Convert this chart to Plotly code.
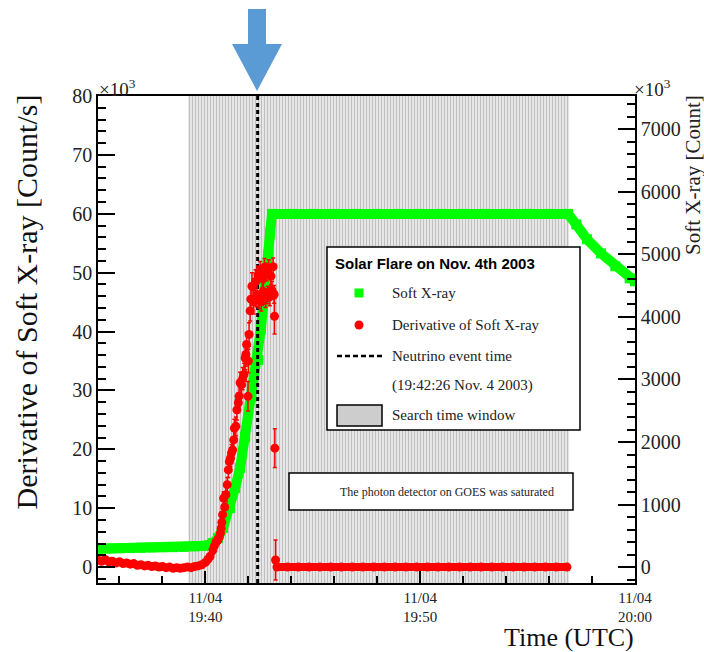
import plotly.graph_objects as go

DAY = "2003-11-04 "

# ---------------- data ----------------
# GOES soft X-ray flux, in units of 10^3 counts (right axis)
sxr_time = ["19:35:00", "19:35:30", "19:36:00", "19:36:30", "19:37:00", "19:37:30",
            "19:38:00", "19:38:30", "19:39:00", "19:39:30", "19:40:00", "19:40:21",
            "19:40:35", "19:40:49", "19:41:09", "19:41:23", "19:41:37", "19:41:51",
            "19:42:09", "19:42:28", "19:42:35", "19:42:42", "19:42:49", "19:42:56",
            "19:43:01", "19:43:06", "19:44:00", "19:45:00", "19:46:00", "19:47:00",
            "19:48:00", "19:49:00", "19:50:00", "19:51:00", "19:52:00", "19:53:00",
            "19:54:00", "19:55:00", "19:56:00", "19:56:53", "19:57:16", "19:57:46",
            "19:58:25", "19:59:05", "19:59:45", "20:00:00"]
sxr_value = [294, 298, 301, 305, 309, 313,
             316, 319, 323, 331, 342, 385,
             465, 625, 945, 1265, 1585, 2080,
             2720, 3311, 3800, 4250, 4650, 5000,
             5350, 5647, 5647, 5647, 5647, 5647,
             5647, 5647, 5647, 5647, 5647, 5647,
             5647, 5647, 5647, 5647, 5478, 5242,
             5016, 4810, 4617, 4570]

# Derivative of soft X-ray, in units of 10^3 counts/s (left axis)
deriv_time = ["19:35:00", "19:35:10", "19:35:20", "19:35:30", "19:35:40", "19:35:50",
              "19:36:00", "19:36:10", "19:36:20", "19:36:30", "19:36:40", "19:36:50",
              "19:37:00", "19:37:10", "19:37:20", "19:37:30", "19:37:40", "19:37:50",
              "19:38:00", "19:38:10", "19:38:20", "19:38:30", "19:38:40", "19:38:50",
              "19:39:00", "19:39:10", "19:39:20", "19:39:30", "19:39:40", "19:39:50",
              "19:40:00", "19:40:07", "19:40:13", "19:40:21", "19:40:25", "19:40:30",
              "19:40:35", "19:40:39", "19:40:42", "19:40:44", "19:40:46", "19:40:48",
              "19:40:51", "19:40:54", "19:40:57", "19:41:01", "19:41:04", "19:41:07",
              "19:41:10", "19:41:13", "19:41:16", "19:41:19", "19:41:21", "19:41:25",
              "19:41:28", "19:41:32", "19:41:34", "19:41:37", "19:41:41", "19:41:44",
              "19:41:48", "19:41:51", "19:41:53", "19:41:55", "19:41:59", "19:42:00",
              "19:42:02", "19:42:05", "19:42:07", "19:42:10", "19:42:15", "19:42:20",
              "19:42:24", "19:42:27", "19:42:30", "19:42:33", "19:42:36", "19:42:39",
              "19:42:42", "19:42:45", "19:42:48", "19:42:51", "19:42:54", "19:42:57",
              "19:43:00", "19:43:03", "19:43:06", "19:43:09", "19:43:12", "19:43:13",
              "19:43:14", "19:43:16"]
deriv_value = [1.2, 1.0, 1.3, 0.9, 1.0, 0.7,
               0.9, 0.6, 0.7, 0.5, 0.6, 0.3,
               0.4, 0.2, 0.3, 0.1, 0.2, 0.0,
               0.1, -0.1, 0.0, -0.2, -0.1, -0.2,
               -0.1, 0.0, -0.1, 0.1, 0.2, 0.4,
               0.8, 1.3, 1.8, 2.9, 3.6, 4.3,
               4.6, 5.1, 5.8, 6.6, 7.6, 8.9,
               11.7, 10.2, 12.3, 14.0, 16.5, 17.9,
               18.5, 19.4, 19.9, 21.6, 23.6, 23.9,
               26.7, 27.9, 29.0, 31.3, 31.0, 32.0,
               32.7, 35.5, 36.1, 37.8, 29.0, 35.0,
               39.5, 43.5, 45.5, 47.7, 45.0, 48.5,
               46.2, 49.6, 45.4, 50.4, 45.0, 49.0,
               46.8, 50.9, 45.6, 50.1, 46.2, 50.7,
               45.9, 49.4, 47.0, 51.0, 46.3, 42.6,
               20.2, 1.2]
deriv_error = [0.4, 0.4, 0.4, 0.4, 0.4, 0.4,
               0.4, 0.4, 0.4, 0.4, 0.4, 0.4,
               0.4, 0.4, 0.4, 0.4, 0.4, 0.4,
               0.4, 0.4, 0.4, 0.4, 0.4, 0.4,
               0.4, 0.4, 0.4, 0.4, 0.4, 0.4,
               0.5, 0.5, 0.6, 0.7, 0.7, 0.8,
               0.8, 0.8, 0.9, 0.9, 1.0, 1.0,
               1.1, 1.1, 1.2, 1.2, 1.3, 1.3,
               1.4, 1.4, 1.4, 1.5, 1.5, 1.6,
               1.7, 1.7, 1.8, 1.8, 1.8, 1.9,
               1.9, 2.0, 2.0, 2.0, 2.5, 2.0,
               2.0, 1.7, 2.0, 2.3, 2.0, 2.0,
               2.0, 1.5, 1.5, 1.5, 1.5, 1.5,
               1.5, 1.5, 1.5, 1.5, 1.5, 1.5,
               1.5, 1.5, 1.5, 1.5, 1.5, 3.0,
               3.3, 3.4]

# Derivative while the GOES detector was saturated
sat_time = ["19:43:20", "19:43:50", "19:44:20", "19:44:50", "19:45:20", "19:45:50",
            "19:46:20", "19:46:50", "19:47:20", "19:47:50", "19:48:20", "19:48:50",
            "19:49:20", "19:49:50", "19:50:20", "19:50:50", "19:51:20", "19:51:50",
            "19:52:20", "19:52:50", "19:53:20", "19:53:50", "19:54:20", "19:54:50",
            "19:55:20", "19:55:50", "19:56:20", "19:56:50"]
sat_value = [0, 0, 0, 0, 0, 0, 0, 0, 0, 0, 0, 0, 0, 0,
             0, 0, 0, 0, 0, 0, 0, 0, 0, 0, 0, 0, 0, 0]

neutrino_time = "19:42:26"
window_start, window_end = "19:39:12", "19:56:56"

x_ticks = ["19:40:00", "19:50:00", "20:00:00"]
x_ticktext = ["11/04<br>19:40", "11/04<br>19:50", "11/04<br>20:00"]
left_ticks = [0, 10, 20, 30, 40, 50, 60, 70, 80]
right_ticks = [0, 1000, 2000, 3000, 4000, 5000, 6000, 7000]

# ---------------- layout constants ----------------
X_RANGE = [DAY + "19:35:00", DAY + "20:00:00"]
LEFT_RANGE = [-2.7, 80.0]
RIGHT_RANGE = [-254, 7532]
W, H = 704, 652
L, R, T, B = 98, 69, 96, 69
PW, PH = W - L - R, H - T - B
SERIF = "Liberation Serif"
SANS = "Liberation Sans"


def px(x):
    return (x - L) / PW


def py(y):
    return (H - B - y) / PH


def full(ts):
    return [DAY + s for s in ts]


fig = go.Figure()

# search time window (right / primary axis drawn first -> bottom layer)
fig.add_trace(go.Scatter(
    x=full([window_start, window_start, window_end, window_end, window_start]),
    y=[RIGHT_RANGE[0], RIGHT_RANGE[1], RIGHT_RANGE[1], RIGHT_RANGE[0], RIGHT_RANGE[0]],
    mode="lines", fill="toself", line=dict(width=0),
    fillcolor="#cfcfcf",
    fillpattern=dict(shape="|", fgcolor="#9a9a9a", bgcolor="#e6e6e6", size=3, solidity=0.34),
    yaxis="y", hoverinfo="skip", showlegend=False))

# soft X-ray
fig.add_trace(go.Scatter(
    x=full(sxr_time), y=sxr_value, mode="lines+markers", yaxis="y",
    line=dict(color="#00ff00", width=10),
    marker=dict(symbol="square", size=10, color="#00ff00"),
    showlegend=False))

# neutrino event time
fig.add_trace(go.Scatter(
    x=full([neutrino_time, neutrino_time]), y=RIGHT_RANGE, mode="lines", yaxis="y",
    line=dict(color="black", width=3, dash="4px,3px"), showlegend=False))

# derivative (left axis, overlay -> drawn on top)
fig.add_trace(go.Scatter(
    x=full(deriv_time), y=deriv_value, mode="markers", yaxis="y2",
    marker=dict(symbol="circle", size=9, color="#ff0000"),
    error_y=dict(type="data", array=deriv_error, color="#ff0000", thickness=1.5, width=2),
    showlegend=False))
fig.add_trace(go.Scatter(
    x=full(sat_time), y=sat_value, mode="lines+markers", yaxis="y2",
    line=dict(color="#ff0000", width=8),
    marker=dict(symbol="circle", size=9, color="#ff0000"),
    showlegend=False))

axis_common = dict(showline=True, linecolor="black", linewidth=1.5, showgrid=False,
                   zeroline=False, ticks="inside", tickcolor="black", tickwidth=1.5)

fig.update_layout(
    width=W, height=H, margin=dict(l=L, r=R, t=T, b=B),
    paper_bgcolor="white", plot_bgcolor="white", showlegend=False,
    font=dict(family=SERIF, color="black"),
    xaxis=dict(type="date", range=X_RANGE, tickmode="array",
               tickvals=full(x_ticks), ticktext=x_ticktext, ticklen=12, mirror=True,
               tickfont=dict(family=SERIF, size=15, color="#222"),
               minor=dict(tickmode="linear", tick0=DAY + "19:36:00", dtick=120000,
                          ticks="inside", ticklen=7, tickcolor="black", tickwidth=1.5),
               **axis_common),
    yaxis=dict(side="right", range=RIGHT_RANGE, tickmode="array", tickvals=right_ticks,
               ticklen=17, tickfont=dict(family=SERIF, size=20, color="#222"),
               minor=dict(tickmode="linear", tick0=0, dtick=200, ticks="inside",
                          ticklen=8, tickcolor="black", tickwidth=1.5),
               **axis_common),
    yaxis2=dict(side="left", overlaying="y", range=LEFT_RANGE, tickmode="array",
                tickvals=left_ticks, ticklen=17,
                tickfont=dict(family=SERIF, size=20, color="#222"),
                minor=dict(tickmode="linear", tick0=0, dtick=2, ticks="inside",
                           ticklen=8, tickcolor="black", tickwidth=1.5),
                **axis_common),
)

# ---------------- decorations ----------------
shapes = []
# blue arrow marking the neutrino event
arrow = (f"M {px(248)} {py(9)} L {px(266)} {py(9)} L {px(266)} {py(44)} "
         f"L {px(282)} {py(44)} L {px(257)} {py(91)} L {px(232)} {py(44)} "
         f"L {px(248)} {py(44)} Z")
shapes.append(dict(type="path", xref="paper", yref="paper", path=arrow,
                   fillcolor="#5b9bd5", line=dict(width=0), layer="above"))
# saturation note box
shapes.append(dict(type="rect", xref="paper", yref="paper", x0=px(289), x1=px(573),
                   y0=py(510), y1=py(473), fillcolor="white",
                   line=dict(color="black", width=1.5), layer="above"))
# legend box
shapes.append(dict(type="rect", xref="paper", yref="paper", x0=px(327), x1=px(580),
                   y0=py(430), y1=py(247), fillcolor="white",
                   line=dict(color="black", width=1.5), layer="above"))
# legend symbols
shapes.append(dict(type="rect", xref="paper", yref="paper", x0=px(354.5), x1=px(363.5),
                   y0=py(297.5), y1=py(288.5), fillcolor="#00ff00",
                   line=dict(width=0), layer="above"))
shapes.append(dict(type="circle", xref="paper", yref="paper", x0=px(354.5), x1=px(363.5),
                   y0=py(329.5), y1=py(320.5), fillcolor="#ff0000",
                   line=dict(width=0), layer="above"))
shapes.append(dict(type="line", xref="paper", yref="paper", x0=px(337), x1=px(382),
                   y0=py(356), y1=py(356), line=dict(color="black", width=2.5, dash="5px,3px"),
                   layer="above"))
shapes.append(dict(type="rect", xref="paper", yref="paper", x0=px(337), x1=px(382),
                   y0=py(426), y1=py(405), fillcolor="#cdcdcd",
                   line=dict(color="black", width=1.5), layer="above"))
fig.update_layout(shapes=shapes)


def note(x, y, text, size, xanchor="left", yanchor="middle", family=SERIF, angle=0,
         color="black"):
    fig.add_annotation(x=px(x), y=py(y), xref="paper", yref="paper", text=text,
                       showarrow=False, xanchor=xanchor, yanchor=yanchor,
                       textangle=angle, font=dict(family=family, size=size, color=color))


note(97, 88, "×10<sup>3</sup>", 19, color="#222")
note(632, 88, "×10<sup>3</sup>", 19, color="#222")
note(26, 93, "Derivative of Soft X-ray [Count/s]", 30, xanchor="center", yanchor="top",
     angle=-90, color="#111")
note(693, 93, "Soft X-ray [Count]", 21, xanchor="center", yanchor="top", angle=-90,
     color="#222")
note(636, 637, "Time (UTC)", 26, xanchor="right", color="#111")

note(333, 263, "<b>Solar Flare on Nov. 4th 2003</b>", 15, family=SANS)
note(390, 293, "Soft X-ray", 15, color="#222")
note(390, 325, "Derivative of Soft X-ray", 15, color="#222")
note(390, 356, "Neutrino event time", 15, color="#222")
note(390, 385, "(19:42:26 Nov. 4 2003)", 15, color="#222")
note(390, 415, "Search time window", 15, color="#222")
note(447, 492, "The photon detector on GOES was saturated", 12, xanchor="center",
     color="#222")

fig.write_html("out.html",
               config={"displayModeBar": False},
               post_script="document.body.style.margin='0px';"
                           "document.body.style.overflow='hidden';")
